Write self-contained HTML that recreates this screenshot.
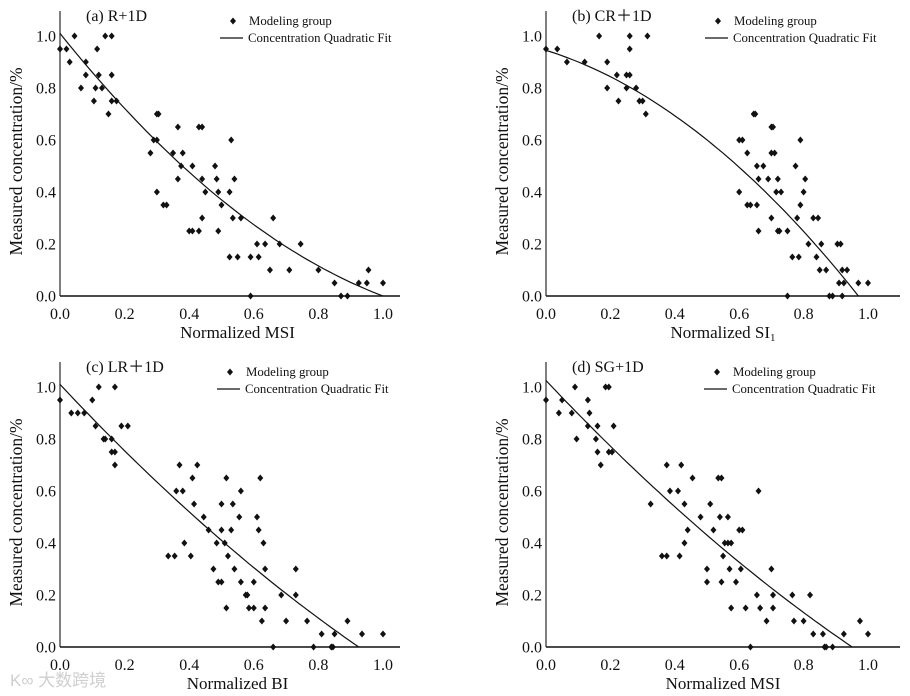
<!DOCTYPE html>
<html><head><meta charset="utf-8"><style>
body{margin:0;background:#fff}
svg{display:block}
text{font-family:"Liberation Serif",serif;fill:#111}
</style></head><body>
<svg id="c" width="910" height="696" viewBox="0 0 910 696"></svg>
<script>
const yTicks=[0,0.2,0.4,0.6,0.8,1.0];
const xTicks=[0,0.2,0.4,0.6,0.8,1.0];
const tickLabels=["0.0","0.2","0.4","0.6","0.8","1.0"];
const panelTitles=["(a) R+1D","(b) CR\uFF0B1D","(c) LR\uFF0B1D","(d) SG+1D"];
const xTitles=["Normalized  MSI","Normalized  SI","Normalized BI","Normalized  MSI"];
const fitA=[1.01,-1.55,0.54,1.0];
const fitB=[0.945,-0.387,-0.605,0.97];
const fitC=[1.01,-1.327,0.254,0.925];
const fitD=[1.025,-1.313,0.247,0.95];
const ptsA=[[0,.95],[.02,.95],[.03,.9],[.045,1],[.065,.8],[.08,.9],[.08,.85],[.105,.75],[.11,.8],[.115,.95],[.12,.85],[.13,.8],[.14,1],[.15,.7],[.16,1],[.16,.85],[.16,.75],[.175,.75],[.28,.55],[.29,.6],[.3,.6],[.3,.7],[.305,.7],[.3,.4],[.32,.35],[.33,.35],[.35,.55],[.365,.65],[.365,.45],[.375,.5],[.38,.55],[.4,.25],[.41,.5],[.41,.25],[.43,.65],[.43,.25],[.44,.65],[.44,.45],[.44,.3],[.45,.4],[.48,.5],[.485,.45],[.49,.4],[.49,.25],[.5,.35],[.525,.4],[.525,.15],[.53,.6],[.535,.3],[.54,.45],[.55,.15],[.56,.3],[.59,.15],[.59,0],[.61,.2],[.615,.15],[.635,.2],[.65,.1],[.66,.3],[.68,.2],[.71,.1],[.745,.2],[.8,.1],[.85,.05],[.87,0],[.89,0],[.925,.05],[.95,.05],[.955,.1],[1,.05]];
const ptsB=[[0,.95],[.035,.95],[.065,.9],[.12,.9],[.165,1],[.19,.9],[.19,.8],[.22,.85],[.225,.75],[.25,.85],[.25,.8],[.26,.85],[.26,1],[.26,.95],[.28,.8],[.29,.75],[.3,.75],[.31,.7],[.315,1],[.6,.4],[.6,.6],[.61,.6],[.625,.55],[.625,.35],[.635,.35],[.645,.7],[.65,.7],[.655,.5],[.655,.35],[.66,.45],[.66,.25],[.675,.5],[.69,.45],[.7,.65],[.705,.65],[.7,.55],[.71,.55],[.7,.3],[.715,.4],[.72,.25],[.72,.45],[.725,.25],[.73,.4],[.75,.25],[.75,0],[.765,.15],[.775,.5],[.78,.3],[.785,.15],[.79,.6],[.79,.35],[.8,.4],[.805,.45],[.815,.2],[.83,.3],[.84,.15],[.845,.3],[.85,.1],[.855,.2],[.87,.1],[.88,0],[.89,0],[.905,.2],[.91,.05],[.915,.2],[.92,.1],[.92,0],[.925,.05],[.935,.1],[.97,.05],[1,.05]];
const ptsC=[[0,.95],[.035,.9],[.055,.9],[.075,.9],[.1,.95],[.11,.85],[.12,1],[.135,.8],[.14,.8],[.16,.8],[.16,.75],[.17,.75],[.17,1],[.17,.7],[.19,.85],[.21,.85],[.335,.35],[.355,.35],[.36,.6],[.37,.7],[.38,.6],[.385,.4],[.405,.35],[.41,.65],[.415,.55],[.425,.7],[.445,.5],[.46,.45],[.475,.3],[.485,.4],[.49,.25],[.5,.45],[.5,.55],[.5,.25],[.51,.4],[.515,.65],[.515,.15],[.52,.35],[.53,.45],[.535,.55],[.54,.3],[.555,.5],[.56,.6],[.56,.25],[.575,.2],[.58,.2],[.585,.15],[.6,.25],[.6,.15],[.61,.5],[.615,.45],[.62,.65],[.625,.1],[.63,.4],[.635,.3],[.635,.15],[.66,0],[.685,.2],[.7,.1],[.73,.3],[.73,.2],[.765,.1],[.785,0],[.81,.05],[.84,0],[.845,0],[.85,.05],[.89,.1],[.935,.05],[1,.05]];
const ptsD=[[0,.95],[.04,.9],[.05,.95],[.08,.9],[.09,1],[.095,.8],[.13,.85],[.13,.95],[.135,.9],[.155,.8],[.16,.85],[.16,.75],[.17,.7],[.185,1],[.195,1],[.195,.75],[.205,.75],[.21,.85],[.325,.55],[.36,.35],[.375,.35],[.375,.7],[.385,.6],[.41,.6],[.415,.35],[.42,.7],[.43,.55],[.43,.4],[.44,.45],[.455,.65],[.48,.5],[.5,.3],[.5,.25],[.51,.55],[.52,.45],[.535,.65],[.545,.65],[.54,.5],[.545,.25],[.55,.35],[.555,.4],[.565,.5],[.565,.4],[.575,.4],[.57,.3],[.575,.15],[.59,.25],[.6,.45],[.605,.3],[.61,.45],[.62,.15],[.635,0],[.655,.2],[.66,.6],[.665,.15],[.685,.1],[.7,.3],[.705,.2],[.705,.15],[.765,.2],[.77,.1],[.8,.1],[.82,.2],[.83,.05],[.86,.05],[.865,0],[.87,0],[.89,0],[.925,.05],[.975,.1],[1,.05]];

const NS="http://www.w3.org/2000/svg";
const svg=document.getElementById('c');
function mk(tag,attrs,parent,txt){const e=document.createElementNS(NS,tag);for(const k in attrs)e.setAttribute(k,attrs[k]);if(txt!==undefined)e.textContent=txt;(parent||svg).appendChild(e);return e;}

const panels=[
 {x0:60,x1:383,y0:296,y1:36,top:11,right:400,pts:ptsA,fit:fitA,ti:0,lx:220,ly:21},
 {x0:546,x1:868,y0:296,y1:36,top:11,right:900,pts:ptsB,fit:fitB,ti:1,lx:705,ly:21},
 {x0:60,x1:383,y0:647,y1:387,top:362,right:400,pts:ptsC,fit:fitC,ti:2,lx:217,ly:372},
 {x0:546,x1:868,y0:647,y1:387,top:362,right:900,pts:ptsD,fit:fitD,ti:3,lx:704,ly:372}
];
const names=["a","b","c","d"];
panels.forEach((p,i)=>{
 const g=mk('g',{});
 
 
 const sx=v=>p.x0+v*(p.x1-p.x0);
 const sy=v=>p.y0+v*(p.y1-p.y0);
 const ax=mk('line',{x1:p.x0,y1:p.top,x2:p.x0,y2:p.y0,stroke:'#555','stroke-width':1.5},g);
 
 
 const bx=mk('line',{x1:p.x0,y1:p.y0,x2:p.right,y2:p.y0,stroke:'#111','stroke-width':1.5},g);
 
 
 yTicks.forEach((v,k)=>{const t=mk('text',{x:p.x0-4,y:sy(v)+5.5,'text-anchor':'end','font-size':16},g,tickLabels[k]);
  
  });
 xTicks.forEach((v,k)=>{const t=mk('text',{x:sx(v),y:p.y0+23,'text-anchor':'middle','font-size':16},g,tickLabels[k]);
  
  });
 const cy=(p.y0+p.top)/2+8;
 const yt=mk('text',{x:0,y:0,'text-anchor':'middle','font-size':17.5,transform:`translate(${p.x0-38},${cy}) rotate(-90)`},g,'Measured concentration/%');
 
 
 const xt=mk('text',{x:(p.x0+p.x1)/2+16,y:p.y0+42,'text-anchor':'middle','font-size':17},g,xTitles[p.ti]);
 
 
 if(i===1){mk('tspan',{'font-size':11,dy:3},xt,'1');}
 const pt=mk('text',{x:p.x0+26,y:p.top+10,'font-size':16},g,panelTitles[p.ti]);
 
 
 const f=p.fit;let d='';
 for(let k=0;k<=60;k++){const xv=f[3]*k/60;const yv=f[0]+f[1]*xv+f[2]*xv*xv;d+=(k?'L':'M')+sx(xv).toFixed(1)+','+sy(yv).toFixed(1);}
 const fc=mk('path',{d:d,fill:'none',stroke:'#111','stroke-width':1.2},g);
 
 
 p.pts.forEach(q=>{const X=sx(q[0]),Y=sy(q[1]);
  const m=mk('path',{d:`M${X},${Y-3.5}L${X+3},${Y}L${X},${Y+3.5}L${X-3},${Y}Z`,fill:'#111'},g);
  
  });
 const lg=mk('g',{},g);
 
 
 const X=p.lx+13,Y=p.ly;
 mk('path',{d:`M${X},${Y-3.5}L${X+3},${Y}L${X},${Y+3.5}L${X-3},${Y}Z`,fill:'#111'},lg);
 mk('text',{x:p.lx+29,y:Y+4,'font-size':12.8},lg,'Modeling group');
 mk('line',{x1:p.lx,y1:Y+17,x2:p.lx+23,y2:Y+17,stroke:'#111','stroke-width':1.2},lg);
 mk('text',{x:p.lx+28,y:Y+21,'font-size':12.8},lg,'Concentration Quadratic Fit');
});
const wm=mk('text',{x:10,y:686,'font-size':17,style:'font-family:"Liberation Sans","Noto Sans CJK SC",sans-serif;fill:#cfcfcf'},svg,'K∞ 大数跨境');


</script>
</body></html>
